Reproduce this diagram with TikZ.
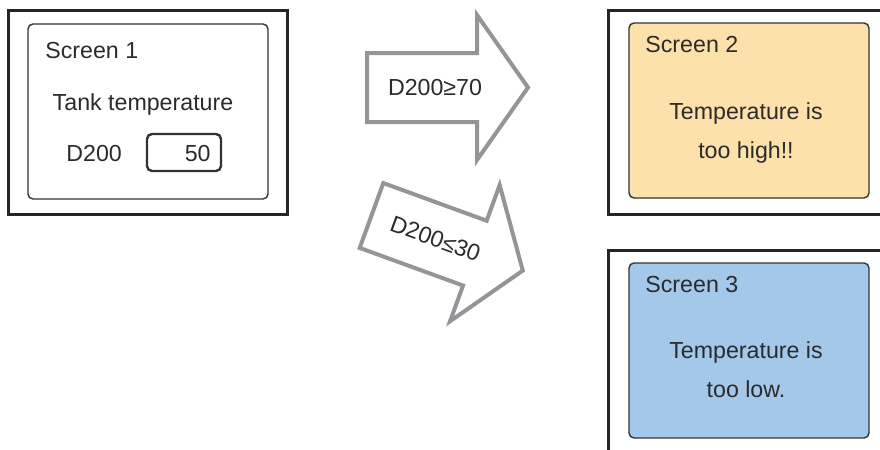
\documentclass[tikz,border=0pt]{standalone}
\usepackage{fontspec}
\setmainfont{Liberation Sans}
\definecolor{arrowgray}{HTML}{939598}
\definecolor{hotfill}{HTML}{FDE1AB}
\definecolor{coldfill}{HTML}{A3C8EA}
\definecolor{inkgray}{HTML}{2B2B2B}

\begin{document}
\begin{tikzpicture}[x=0.5pt,y=-0.5pt,font=\fontsize{11.6}{14}\selectfont,text=inkgray]
	\tikzstyle{frame}=[draw=black!85,line width=1.5pt]
	\tikzstyle{panel}=[draw=black!80,line width=0.7pt,rounded corners=2.5pt]
	\tikzstyle{bigarrow}=[draw=arrowgray,fill=white,line width=2pt,miter limit=20]
	\tikzstyle{txt}=[inner sep=0pt,anchor=base]
	\useasboundingbox (0,0) rectangle (880,450);
	% screen 1
	\draw[frame] (8,10) rectangle (287,214);
	\draw[panel] (28,24) rectangle (268,199);
	\node[txt,anchor=base west] (title1) at (45,58) {Screen 1};
	\node[txt] (tank) at (143,110) {Tank temperature};
	\node[txt,anchor=base west] (dev) at (66,161) {D200};
	\draw[panel,line width=1.2pt] (147,134) rectangle (221,171);
	\node[txt,anchor=base east] (val) at (211,161) {50};
	% screen 2
	\draw[frame] (608,10) rectangle (884,214);
	\draw[panel,fill=hotfill] (629,23) rectangle (869,198);
	\node[txt,anchor=base west] (title2) at (645,52) {Screen 2};
	\node[txt] (hi1) at (746,119) {Temperature is};
	\node[txt] (hi2) at (746,158) {too high!!};
	% screen 3
	\draw[frame] (608,250) rectangle (884,456);
	\draw[panel,fill=coldfill] (629,263) rectangle (869,438);
	\node[txt,anchor=base west] (title3) at (645,292) {Screen 3};
	\node[txt] (lo1) at (746,358) {Temperature is};
	\node[txt] (lo2) at (746,397) {too low.};
	% arrows
	\begin{scope}[shift={(367,87.5)}]
		\draw[bigarrow] (0,-34.5) -- (110,-34.5) -- (110,-72.5) -- (161,0) -- (110,72.5) -- (110,34.5) -- (0,34.5) -- cycle;
		\node (up) at (68,0) {D200≥70};
	\end{scope}
	\begin{scope}[shift={(371.5,215.5)},rotate=-20,transform shape]
		\draw[bigarrow] (0,-34.5) -- (110,-34.5) -- (110,-72.5) -- (161,0) -- (110,72.5) -- (110,34.5) -- (0,34.5) -- cycle;
		\node (down) at (68,0) {D200≤30};
	\end{scope}
\end{tikzpicture}
\end{document}
